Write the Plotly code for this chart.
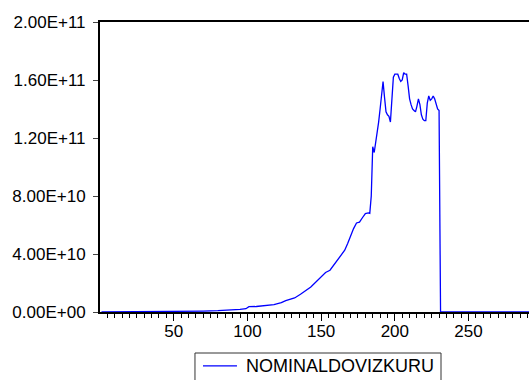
import plotly.graph_objects as go

# Observation index and NOMINALDOVIZKURU values
obs = [1, 20, 40, 60, 70, 80, 88, 95, 99, 100, 101, 106, 111, 118, 123, 126,
       132, 136, 143, 148, 153, 156, 158, 163, 166, 168, 170, 172, 174, 176,
       178, 180, 182, 183, 184, 185, 186, 187, 188, 189, 190, 191, 192, 193,
       194, 195, 196, 197, 198, 199, 200, 201, 202, 203, 204, 205, 206, 207,
       208, 209, 210, 211, 212, 213, 214, 215, 216, 217, 218, 219, 220, 221,
       222, 223, 224, 225, 226, 227, 228, 229, 230, 231, 291]

kur = [0.05e9, 0.1e9, 0.2e9, 0.4e9, 0.6e9, 0.9e9, 1.2e9, 1.8e9, 2.3e9, 3.0e9,
       3.7e9, 3.8e9, 4.4e9, 5.1e9, 6.5e9, 7.9e9, 9.7e9, 12.2e9, 17.2e9,
       22.3e9, 27.3e9, 28.8e9, 31.5e9, 38.4e9, 42.6e9, 47.2e9, 53.0e9,
       57.5e9, 61.4e9, 62.0e9, 65.0e9, 67.9e9, 68.3e9, 68.0e9, 80.0e9,
       114e9, 110e9, 116e9, 124e9, 131e9, 140e9, 152e9, 159e9, 148e9,
       138e9, 136e9, 135e9, 131e9, 145e9, 162e9, 164e9, 164e9, 164e9,
       161e9, 159e9, 160e9, 165e9, 164e9, 164e9, 156e9, 147e9, 143e9,
       140e9, 139e9, 138e9, 142e9, 147e9, 143e9, 136e9, 133e9, 132e9,
       132e9, 144e9, 149e9, 146e9, 147e9, 149e9, 147e9, 144e9, 140e9,
       139e9, 0.0, 0.0]

series_name = "NOMINALDOVIZKURU"
y_ticks = [0, 4e10, 8e10, 1.2e11, 1.6e11, 2e11]
y_labels = ["0.00E+00", "4.00E+10", "8.00E+10", "1.20E+11", "1.60E+11", "2.00E+11"]
x_ticks = [50, 100, 150, 200, 250]
x_labels = ["50", "100", "150", "200", "250"]

LINE_BLUE = "#0000ff"
font = dict(family="Liberation Sans, Arial, sans-serif", size=17, color="black")

fig = go.Figure()
fig.add_trace(go.Scatter(
    x=obs, y=kur, mode="lines", name=series_name,
    line=dict(color=LINE_BLUE, width=1.3),
))

# Legend drawn as a framed key below the axis
key_y = -0.186
fig.add_shape(type="rect", xref="paper", yref="paper",
              x0=0.2214, x1=0.7949, y0=-0.1414, y1=-0.30,
              line=dict(color="#333333", width=1), fillcolor="white")
fig.add_shape(type="line", xref="paper", yref="paper",
              x0=0.2401, x1=0.3193, y0=key_y, y1=key_y,
              line=dict(color=LINE_BLUE, width=1.3))
fig.add_annotation(text=series_name, xref="paper", yref="paper",
                   x=0.336, y=key_y, xanchor="left", yanchor="middle",
                   showarrow=False,
                   font=dict(family=font["family"], size=18, color="black"))

fig.update_layout(
    width=529, height=380,
    margin=dict(l=100, r=0, t=22, b=68, autoexpand=False),
    paper_bgcolor="white", plot_bgcolor="white",
    font=font,
    showlegend=False,
)

fig.update_xaxes(
    range=[0, 291], showgrid=False, zeroline=False,
    showline=True, linecolor="black", linewidth=2, mirror=True,
    tickmode="array", tickvals=x_ticks, ticktext=x_labels,
    ticks="outside", ticklen=7, tickwidth=1, tickcolor="black",
    minor=dict(tickmode="array",
               tickvals=[v for v in range(5, 291, 5) if v % 50],
               ticks="outside", ticklen=4, tickwidth=1, tickcolor="black"),
    tickfont=font, ticklabelstandoff=-4,
)

fig.update_yaxes(
    range=[0, 2e11], showgrid=False, zeroline=False,
    showline=True, linecolor="black", linewidth=2,
    tickmode="array", tickvals=y_ticks, ticktext=y_labels,
    ticks="outside", ticklen=5, tickwidth=1, tickcolor="#444444",
    tickfont=font, ticklabelstandoff=4,
)

fig.write_html("out.html")
